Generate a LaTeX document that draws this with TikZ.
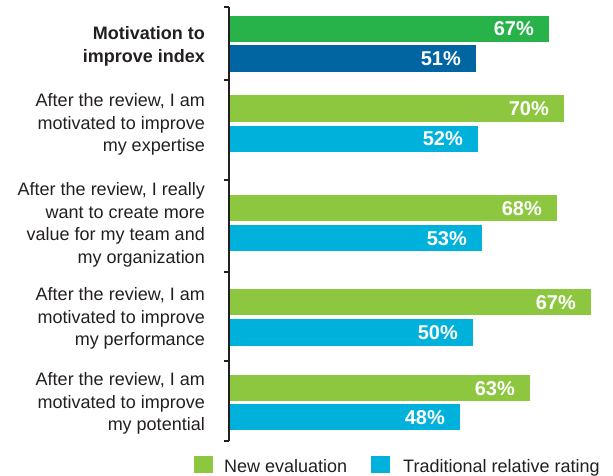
\documentclass[tikz,border=0pt]{standalone}
\usepackage{fontspec}
\setmainfont{Liberation Sans}
\usepackage{tikz}

\definecolor{idxgreen}{HTML}{27B24A}
\definecolor{idxblue}{HTML}{0065A0}
\definecolor{newgreen}{HTML}{8DC63F}
\definecolor{tradblue}{HTML}{00B1DB}
\definecolor{txtgray}{HTML}{231F20}

\begin{document}
\begin{tikzpicture} [x=1pt,y=-1pt,
  lbl/.style={anchor=east,align=right,inner sep=0pt,text=txtgray,font=\fontsize{18}{22.5}\selectfont},
  val/.style={anchor=base east,inner sep=0pt,text=white,font=\bfseries\fontsize{20}{24}\selectfont},
  legtxt/.style={anchor=base west,inner sep=0pt,text=txtgray,font=\fontsize{18}{22}\selectfont}]

\useasboundingbox (0,0) rectangle (613,476);

\coordinate (top) at (229,7);
\coordinate (bot) at (229,441);

% the axis with its bracket ticks
\draw [txtgray,line width=1.5pt] (top) -- (bot);
\draw [txtgray,line width=1.2pt] (224,7) -- (229,7);
\draw [txtgray,line width=1.2pt] (224,80) -- (229,80);
\draw [txtgray,line width=1.2pt] (224,180) -- (229,180);
\draw [txtgray,line width=1.2pt] (224,272) -- (229,272);
\draw [txtgray,line width=1.2pt] (224,361) -- (229,361);
\draw [txtgray,line width=1.2pt] (224,441) -- (229,441);

% motivation index
\fill [idxgreen] (230,16) rectangle (549,42);
\fill [idxblue] (230,45) rectangle (476,72);
\node [val] (v1a) at (534,36) {67\%};
\node [val] (v1b) at (461,65.5) {51\%};
\node [lbl,font=\bfseries\fontsize{18}{22.5}\selectfont] (l1) at (205,46.5) {Motivation to\\improve index};

% expertise
\fill [newgreen] (230,95) rectangle (564,122);
\fill [tradblue] (230,126) rectangle (478,152);
\node [val] (v2a) at (549,115.5) {70\%};
\node [val] (v2b) at (463,146) {52\%};
\node [lbl] (l2) at (205,124.5) {After the review, I am\\motivated to improve\\my expertise};

% value for team
\fill [newgreen] (230,195) rectangle (557,221);
\fill [tradblue] (230,225) rectangle (482,251);
\node [val] (v3a) at (542,215) {68\%};
\node [val] (v3b) at (467,245) {53\%};
\node [lbl] (l3) at (205,225) {After the review, I really\\want to create more\\value for my team and\\my organization};

% performance
\fill [newgreen] (230,289) rectangle (591,315);
\fill [tradblue] (230,319) rectangle (473,346);
\node [val] (v4a) at (576,309) {67\%};
\node [val] (v4b) at (458,339.5) {50\%};
\node [lbl] (l4) at (205,318.5) {After the review, I am\\motivated to improve\\my performance};

% potential
\fill [newgreen] (230,375) rectangle (530,401);
\fill [tradblue] (230,404) rectangle (460,430);
\node [val] (v5a) at (515,395) {63\%};
\node [val] (v5b) at (445,424) {48\%};
\node [lbl] (l5) at (205,403.5) {After the review, I am\\motivated to improve\\my potential};

%% legend
\fill [newgreen] (194,456) rectangle (213,473);
\node [legtxt] (leg1) at (224,472) {New evaluation};
\fill [tradblue] (371,456) rectangle (390,473);
\node [legtxt] (leg2) at (403,472) {Traditional relative rating};

\end{tikzpicture}
\end{document}
